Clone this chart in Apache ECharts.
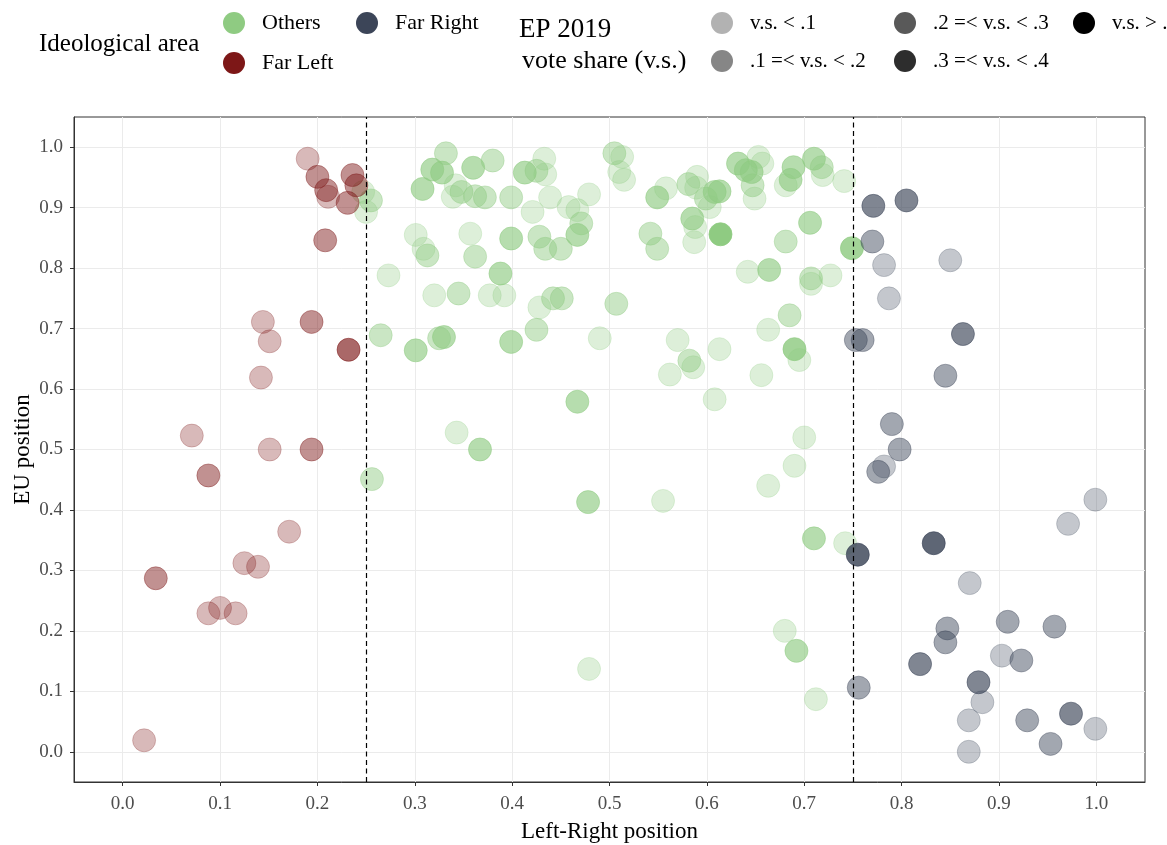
<!DOCTYPE html>
<html><head><meta charset="utf-8">
<script src="https://cdn.jsdelivr.net/npm/echarts@6/dist/echarts.min.js"></script>
<style>html,body{margin:0;padding:0;background:#fff}#c{width:1167px;height:845px}</style>
</head><body><div id="c"></div>
<script>
// ---- data ----
const groupNames = ['Others', 'Far Left', 'Far Right'];
const voteShareBins = ['v.s. < .1', '.1 =< v.s. < .2', '.2 =< v.s. < .3', '.3 =< v.s. < .4', 'v.s. > .4'];
const xTicks = [0.0, 0.1, 0.2, 0.3, 0.4, 0.5, 0.6, 0.7, 0.8, 0.9, 1.0];
const yTicks = [0.0, 0.1, 0.2, 0.3, 0.4, 0.5, 0.6, 0.7, 0.8, 0.9, 1.0];
const cutoffs = [0.25, 0.75];

// [Left-Right position, EU position, vote share bin index]
const others = [
  [0.255,0.912,1],[0.250,0.893,0],[0.247,0.926,0],[0.273,0.788,0],[0.265,0.689,1],[0.256,0.451,1],
  [0.332,0.990,1],[0.318,0.963,2],[0.328,0.958,2],[0.360,0.966,2],[0.380,0.978,1],[0.413,0.958,2],
  [0.425,0.961,1],[0.433,0.981,0],[0.434,0.955,0],[0.505,0.990,1],[0.513,0.984,0],[0.510,0.959,0],
  [0.515,0.946,0],[0.308,0.931,2],[0.342,0.937,0],[0.339,0.918,0],[0.348,0.926,1],[0.362,0.919,1],
  [0.372,0.917,1],[0.399,0.917,1],[0.421,0.893,0],[0.439,0.917,0],[0.479,0.922,0],[0.458,0.901,0],
  [0.467,0.896,0],[0.471,0.874,1],[0.467,0.855,2],[0.301,0.855,0],[0.309,0.832,0],[0.313,0.821,1],
  [0.357,0.857,0],[0.362,0.819,1],[0.399,0.849,2],[0.428,0.852,1],[0.434,0.832,1],[0.450,0.832,1],
  [0.388,0.791,2],[0.320,0.755,0],[0.345,0.758,1],[0.377,0.755,0],[0.392,0.755,0],[0.428,0.735,0],
  [0.442,0.750,1],[0.451,0.750,1],[0.507,0.741,1],[0.425,0.698,1],[0.399,0.678,2],[0.490,0.684,0],
  [0.301,0.664,2],[0.325,0.684,1],[0.330,0.686,2],[0.467,0.579,2],[0.343,0.528,0],[0.367,0.500,2],
  [0.478,0.413,2],[0.555,0.415,0],[0.700,0.520,0],[0.690,0.473,0],[0.663,0.440,0],[0.710,0.353,2],
  [0.742,0.345,0],[0.680,0.200,0],[0.692,0.167,2],[0.479,0.137,0],[0.712,0.087,0],[0.549,0.917,2],
  [0.558,0.932,0],[0.581,0.939,1],[0.590,0.951,0],[0.589,0.933,0],[0.599,0.915,1],[0.603,0.901,0],
  [0.608,0.926,2],[0.613,0.927,2],[0.585,0.882,2],[0.588,0.868,0],[0.587,0.843,0],[0.614,0.856,4],
  [0.542,0.857,1],[0.549,0.832,1],[0.632,0.973,2],[0.640,0.962,2],[0.646,0.959,2],[0.653,0.984,0],
  [0.657,0.973,0],[0.647,0.937,1],[0.649,0.915,0],[0.689,0.967,2],[0.710,0.981,2],[0.718,0.967,1],
  [0.719,0.954,0],[0.686,0.946,2],[0.681,0.937,0],[0.741,0.944,0],[0.706,0.875,2],[0.681,0.844,1],
  [0.749,0.833,3],[0.642,0.794,0],[0.664,0.797,2],[0.707,0.783,1],[0.707,0.774,0],[0.727,0.788,0],
  [0.685,0.722,1],[0.663,0.698,0],[0.570,0.681,0],[0.613,0.666,0],[0.690,0.666,3],[0.695,0.648,0],
  [0.582,0.647,1],[0.586,0.636,0],[0.562,0.624,0],[0.656,0.623,0],[0.608,0.583,0]
];
const farLeft = [
  [0.190,0.981,0],[0.200,0.951,1],[0.236,0.954,1],[0.209,0.929,1],[0.211,0.918,0],[0.240,0.937,1],
  [0.231,0.908,1],[0.208,0.846,1],[0.144,0.711,0],[0.194,0.711,1],[0.151,0.679,0],[0.232,0.665,2],
  [0.142,0.619,0],[0.071,0.523,0],[0.151,0.500,0],[0.194,0.500,1],[0.088,0.457,1],[0.171,0.364,0],
  [0.125,0.312,0],[0.139,0.306,0],[0.034,0.287,1],[0.088,0.229,0],[0.100,0.238,0],[0.116,0.229,0],
  [0.022,0.019,0]
];
const farRight = [
  [0.771,0.903,2],[0.805,0.912,2],[0.770,0.844,1],[0.782,0.805,0],[0.850,0.813,0],[0.787,0.750,0],
  [0.753,0.681,1],[0.760,0.681,1],[0.863,0.691,2],[0.845,0.622,1],[0.790,0.542,1],[0.798,0.500,1],
  [0.782,0.472,0],[0.776,0.463,1],[0.999,0.417,0],[0.971,0.377,0],[0.833,0.345,3],[0.755,0.326,3],
  [0.870,0.279,0],[0.909,0.215,1],[0.957,0.207,1],[0.847,0.204,1],[0.845,0.181,1],[0.903,0.159,0],
  [0.923,0.151,1],[0.819,0.145,2],[0.879,0.115,2],[0.756,0.106,1],[0.883,0.082,0],[0.869,0.052,0],
  [0.929,0.052,1],[0.974,0.063,2],[0.999,0.038,0],[0.953,0.013,1],[0.869,0.000,0]
];

// ---- styles ----
const groupColors = {'Others': '#8FCB82', 'Far Left': '#7D1717', 'Far Right': '#3C4558'};
const binAlpha = [0.3, 0.475, 0.65, 0.825, 1.0];
const FONT = 'Liberation Serif';

function pts(arr) {
  return arr.map(d => ({value: [d[0], d[1]], itemStyle: {opacity: binAlpha[d[2]]}}));
}
const groupData = {'Others': others, 'Far Left': farLeft, 'Far Right': farRight};

const series = groupNames.map(g => ({
  name: g, type: 'scatter', symbol: 'circle', symbolSize: 23,
  itemStyle: {color: groupColors[g], borderColor: groupColors[g], borderWidth: 0.8},
  data: pts(groupData[g])
}));
voteShareBins.forEach((b, i) => series.push({
  name: b, type: 'scatter', symbolSize: 22, itemStyle: {color: '#000'}, data: []
}));
series.push({
  type: 'scatter', data: [], z: 5,
  markLine: {
    silent: true, symbol: ['none', 'none'], animation: false,
    label: {show: false},
    lineStyle: {color: '#000', type: [5, 3.5], width: 1.2},
    data: cutoffs.map(v => ({xAxis: v}))
  }
});

function leg(name, cx, cy, opacity, fs) {
  return {
    data: [{name: name, itemStyle: {opacity: opacity, borderWidth: 0}}],
    left: cx - 11, top: cy - 11, itemWidth: 46, itemHeight: 22, icon: 'circle',
    selectedMode: false, padding: 0,
    textStyle: {fontFamily: FONT, fontSize: fs, color: '#000'}
  };
}
const legends = [
  leg('Others', 234, 23, 1, 22),
  leg('Far Right', 367, 23, 1, 22),
  leg('Far Left', 234, 63, 1, 22),
  leg(voteShareBins[0], 722, 23, binAlpha[0], 21),
  leg(voteShareBins[1], 722, 61, binAlpha[1], 21),
  leg(voteShareBins[2], 905, 23, binAlpha[2], 21),
  leg(voteShareBins[3], 905, 61, binAlpha[3], 21),
  leg(voteShareBins[4], 1084, 23, binAlpha[4], 21)
];

function axisCommon(ticks, name) {
  return {
    type: 'value', min: -0.05, max: 1.05, interval: 0.05,
    name: name, nameLocation: 'middle',
    nameTextStyle: {fontFamily: FONT, fontSize: 23, color: '#000'},
    axisLine: {show: true, onZero: false, lineStyle: {color: '#333', width: 1}},
    axisTick: {show: true, length: 4, customValues: ticks, lineStyle: {color: '#333'}},
    axisLabel: {customValues: ticks, formatter: v => v.toFixed(1),
      fontFamily: FONT, fontSize: 19, color: '#4d4d4d'},
    splitLine: {show: true, lineStyle: {color: '#ebebeb', width: 1}}
  };
}
const xAxis = axisCommon(xTicks, 'Left-Right position');
xAxis.nameGap = 38; xAxis.axisLabel.margin = 13;
const yAxis = axisCommon(yTicks, 'EU position');
yAxis.nameGap = 40; yAxis.nameMoveOverlap = false; yAxis.axisLabel.margin = 11;

const chart = echarts.init(document.getElementById('c'), null, {renderer: 'canvas'});
chart.setOption({
  animation: false,
  backgroundColor: '#fff',
  grid: {left: 74, right: 22, top: 117, bottom: 63, show: true, borderColor: '#333', borderWidth: 1,
    containLabel: false, outerBoundsMode: 'none'},
  xAxis: xAxis,
  yAxis: yAxis,
  legend: legends,
  graphic: [
    {type: 'text', style: {text: 'Ideological area', x: 39, y: 44, verticalAlign: 'middle', font: '25px "Liberation Serif"', fill: '#000'}},
    {type: 'text', style: {text: 'EP 2019', x: 519, y: 30, verticalAlign: 'middle', font: '27px "Liberation Serif"', fill: '#000'}},
    {type: 'text', style: {text: 'vote share (v.s.)', x: 522, y: 61, verticalAlign: 'middle', font: '26px "Liberation Serif"', fill: '#000'}}
  ],
  series: series
});
</script>
</body></html>
